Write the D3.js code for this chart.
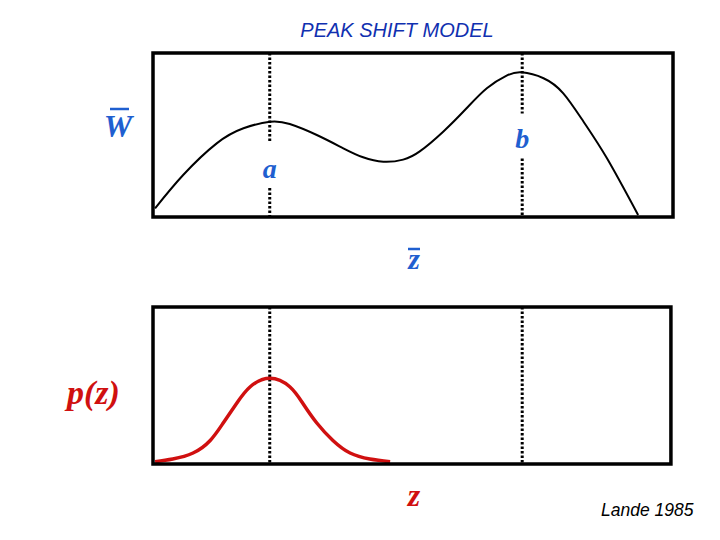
<!DOCTYPE html>
<html>
<head>
<meta charset="utf-8">
<script src="https://cdn.jsdelivr.net/npm/d3@7"></script>
<style>
  body { margin: 0; background: #fff; }
  .serif { font-family: "Liberation Serif", "DejaVu Serif", serif; font-style: italic; font-weight: bold; }
  .sans { font-family: "Liberation Sans", Arial, sans-serif; font-style: italic; }
</style>
</head>
<body>
<svg id="chart"></svg>
<script>
// adaptive landscape: mean fitness W-bar over mean phenotype z-bar
const zFit = [0.4, 5.8, 12.25, 17.4, 22.5, 26.3, 31.5, 36.6, 40.4, 44.3, 48.1, 51.3, 55.8, 60.3, 64.2, 68.0, 70.9, 75.1, 78.9, 82.8, 87.3, 93.3];
const wFit = [0.053, 0.256, 0.449, 0.541, 0.581, 0.567, 0.5, 0.419, 0.364, 0.337, 0.35, 0.4, 0.52, 0.663, 0.785, 0.862, 0.882, 0.846, 0.754, 0.581, 0.358, 0.012];

// phenotype distribution p(z), sitting on peak a
const zDist = [0.4, 3.8, 7.7, 11.0, 13.5, 16.1, 18.7, 22.5, 26.3, 28.8, 31.5, 34.6, 37.9, 41.7, 45.6];
const pDist = [0.015, 0.032, 0.07, 0.15, 0.261, 0.387, 0.492, 0.546, 0.492, 0.387, 0.261, 0.15, 0.07, 0.032, 0.015];

const peakZ = [22.45, 71.0];
const peakNames = ["a", "b"];
const peakLabelW = [0.25, 0.43];   // where the letter sits inside the top panel

const width = 720, height = 540;
const blue = "#1f5fd0", red = "#d01010";

const svg = d3.select("#chart").attr("width", width).attr("height", height);

const x = d3.scaleLinear().domain([0, 100]).range([153, 673]);
const yTop = d3.scaleLinear().domain([0, 1]).range([217, 53]);
const yBot = d3.scaleLinear().domain([0, 1]).range([464, 307]);

// title
svg.append("text")
    .attr("class", "sans")
    .attr("x", 397).attr("y", 37)
    .attr("text-anchor", "middle")
    .attr("font-size", 20)
    .attr("fill", "#1030b0")
    .text("PEAK SHIFT MODEL");

// ---- top panel ----
const topPanel = svg.append("g");

// dotted lines at the peaks, broken where the letter sits
peakZ.forEach((z, i) => {
    const ly = yTop(peakLabelW[i]);
    [[53, ly - 33], [ly + 12, 217]].forEach(([y1, y2]) => {
        topPanel.append("line")
            .attr("x1", x(z)).attr("x2", x(z))
            .attr("y1", y1).attr("y2", y2)
            .attr("stroke", "#000").attr("stroke-width", 3)
            .attr("stroke-dasharray", "2.5,2");
    });
    topPanel.append("text")
        .attr("class", "serif")
        .attr("x", x(z)).attr("y", ly + 2)
        .attr("text-anchor", "middle")
        .attr("font-size", 28)
        .attr("fill", blue)
        .text(peakNames[i]);
});

const fitLine = d3.line()
    .x((d, i) => x(zFit[i]))
    .y(d => yTop(d))
    .curve(d3.curveNatural);

topPanel.append("path")
    .attr("d", fitLine(wFit))
    .attr("fill", "none")
    .attr("stroke", "#000")
    .attr("stroke-width", 2);

topPanel.append("rect")
    .attr("x", x(0)).attr("y", yTop(1))
    .attr("width", x(100) - x(0)).attr("height", yTop(0) - yTop(1))
    .attr("fill", "none").attr("stroke", "#000").attr("stroke-width", 3.5);

// W-bar
svg.append("text")
    .attr("class", "serif")
    .attr("x", 118).attr("y", 137)
    .attr("text-anchor", "middle")
    .attr("font-size", 32)
    .attr("fill", blue)
    .text("W");
svg.append("line")
    .attr("x1", 110).attr("x2", 129).attr("y1", 109).attr("y2", 109)
    .attr("stroke", blue).attr("stroke-width", 2.5);

// z-bar
svg.append("text")
    .attr("class", "serif")
    .attr("x", 414).attr("y", 269)
    .attr("text-anchor", "middle")
    .attr("font-size", 30)
    .attr("fill", blue)
    .text("z");
svg.append("line")
    .attr("x1", 408).attr("x2", 420).attr("y1", 249).attr("y2", 249)
    .attr("stroke", blue).attr("stroke-width", 2.5);

// ---- bottom panel ----
const botPanel = svg.append("g");

peakZ.forEach(z => {
    botPanel.append("line")
        .attr("x1", x(z)).attr("x2", x(z))
        .attr("y1", 307).attr("y2", 464)
        .attr("stroke", "#000").attr("stroke-width", 3)
        .attr("stroke-dasharray", "2.5,2");
});

const distLine = d3.line()
    .x((d, i) => x(zDist[i]))
    .y(d => yBot(d))
    .curve(d3.curveNatural);

botPanel.append("path")
    .attr("d", distLine(pDist))
    .attr("fill", "none")
    .attr("stroke", red)
    .attr("stroke-width", 3.5);

botPanel.append("rect")
    .attr("x", x(0)).attr("y", yBot(1))
    .attr("width", x(99.6) - x(0)).attr("height", yBot(0) - yBot(1))
    .attr("fill", "none").attr("stroke", "#000").attr("stroke-width", 3.5);

svg.append("text")
    .attr("class", "serif")
    .attr("x", 67).attr("y", 404)
    .attr("font-size", 34)
    .attr("fill", red)
    .text("p(z)");

svg.append("text")
    .attr("class", "serif")
    .attr("x", 414).attr("y", 506)
    .attr("text-anchor", "middle")
    .attr("font-size", 32)
    .attr("fill", red)
    .text("z");

svg.append("text")
    .attr("class", "sans")
    .attr("x", 601).attr("y", 516)
    .attr("font-size", 17.5)
    .attr("fill", "#000")
    .text("Lande 1985");
</script>
</body>
</html>
